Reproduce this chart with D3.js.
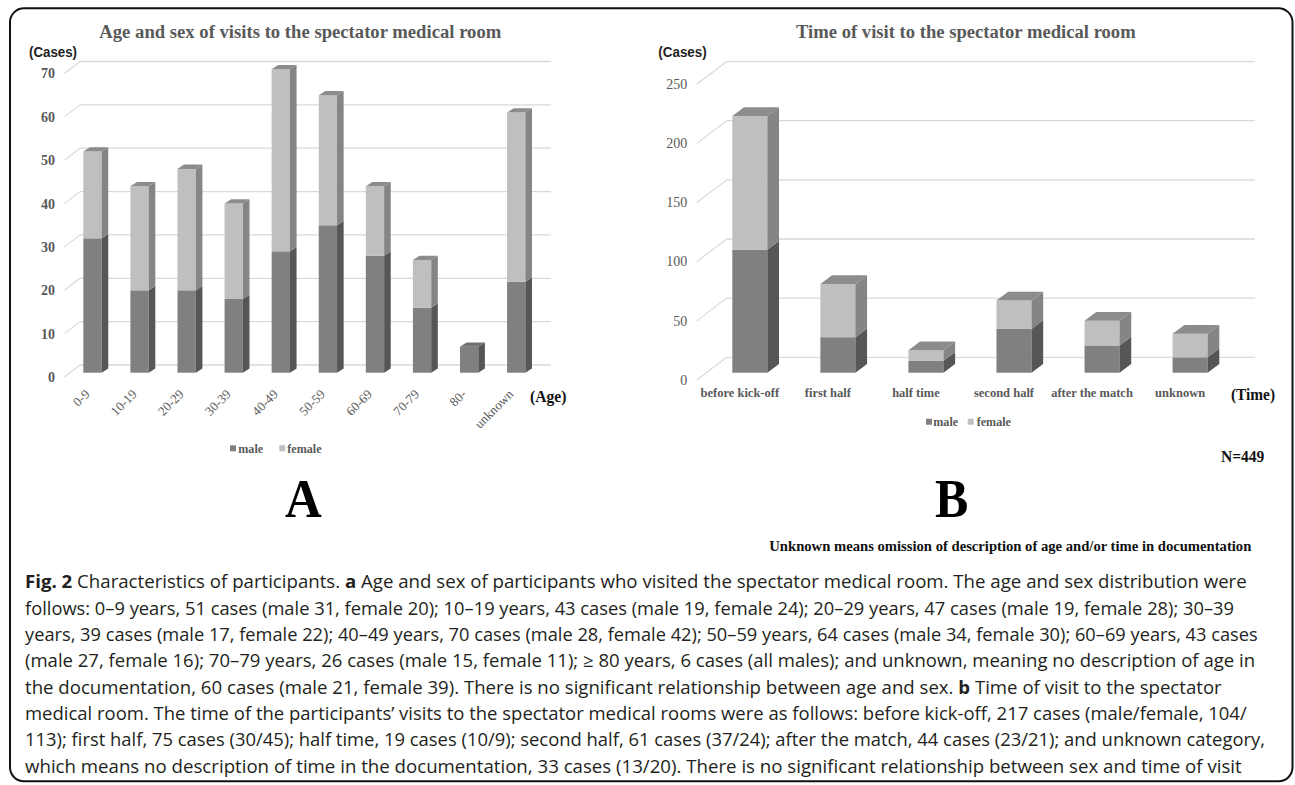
<!DOCTYPE html>
<html>
<head>
<meta charset="utf-8">
<script src="https://cdn.jsdelivr.net/npm/d3@7"></script>
<style>
  body { margin: 0; background: #fff; }
  svg { display: block; }
</style>
</head>
<body>
<svg id="wrapper" width="1295" height="785"></svg>
<script>
// 1. Data
const sexes = ["male", "female"]

const ageGroups = ["0-9", "10-19", "20-29", "30-39", "40-49", "50-59", "60-69", "70-79", "80-", "unknown"]
const ageMale = [31, 19, 19, 17, 28, 34, 27, 15, 6, 21]
const ageFemale = [20, 24, 28, 22, 42, 30, 16, 11, 0, 39]
const ageTicks = [0, 10, 20, 30, 40, 50, 60, 70]

const timeGroups = ["before kick-off", "first half", "half time", "second half", "after the match", "unknown"]
const timeMale = [104, 30, 10, 37, 23, 13]
const timeFemale = [113, 45, 9, 24, 21, 20]
const timeTicks = [0, 50, 100, 150, 200, 250]

const captionLines = [
  "**Fig. 2** Characteristics of participants. **a** Age and sex of participants who visited the spectator medical room. The age and sex distribution were",
  "follows: 0–9 years, 51 cases (male 31, female 20); 10–19 years, 43 cases (male 19, female 24); 20–29 years, 47 cases (male 19, female 28); 30–39",
  "years, 39 cases (male 17, female 22); 40–49 years, 70 cases (male 28, female 42); 50–59 years, 64 cases (male 34, female 30); 60–69 years, 43 cases",
  "(male 27, female 16); 70–79 years, 26 cases (male 15, female 11); ≥ 80 years, 6 cases (all males); and unknown, meaning no description of age in",
  "the documentation, 60 cases (male 21, female 39). There is no significant relationship between age and sex. **b** Time of visit to the spectator",
  "medical room. The time of the participants’ visits to the spectator medical rooms were as follows: before kick-off, 217 cases (male/female, 104/",
  "113); first half, 75 cases (30/45); half time, 19 cases (10/9); second half, 61 cases (37/24); after the match, 44 cases (23/21); and unknown category,",
  "which means no description of time in the documentation, 33 cases (13/20). There is no significant relationship between sex and time of visit",
]
// right edge of each caption line (ragged right)
const captionEnds = [1246.7, 1234, 1257.7, 1255, 1221.7, 1246.7, 1265, 1241.7]

// 2. Styles
const serif = '"Liberation Serif", "Times New Roman", serif'
const grey = "#595959"
const colors = {
  male: { front: "#808080", side: "#565656", top: "#727272" },
  female: { front: "#bfbfbf", side: "#858585", top: "#8c8c8c" },
}

const svg = d3.select("#wrapper")

svg.append("rect")
  .attr("x", 10).attr("y", 8.3)
  .attr("width", 1282.5).attr("height", 773)
  .attr("rx", 14)
  .attr("fill", "#fff")
  .attr("stroke", "#111")
  .attr("stroke-width", 2)

function fitText(sel, width) {
  sel.attr("textLength", width).attr("lengthAdjust", "spacingAndGlyphs")
}

function squeeze(sel, k) {
  sel.each(function () {
    const w = this.getComputedTextLength()
    d3.select(this).attr("textLength", w * k).attr("lengthAdjust", "spacingAndGlyphs")
  })
}

function label(x, y, txt, opts) {
  const t = svg.append("text")
    .attr("x", x).attr("y", y)
    .attr("font-family", opts.family || serif)
    .attr("font-size", opts.size)
    .attr("font-weight", opts.weight || "bold")
    .attr("fill", opts.fill || "#111")
    .attr("text-anchor", opts.anchor || "start")
    .text(txt)
  if (opts.width) fitText(t, opts.width)
  return t
}

// 3. Panels
function drawPanel(p) {
  const g = svg.append("g")

  const rows = p.categories.map((c, i) => ({ cat: c, male: p.male[i], female: p.female[i] }))
  const series = d3.stack().keys(sexes)(rows)

  const xScale = d3.scaleBand()
    .domain(p.categories)
    .range(p.xRange)
    .paddingInner(p.padInner)
    .paddingOuter(0.3)

  const yScale = d3.scaleLinear()
    .domain([0, d3.max(p.ticks)])
    .range(p.yRange)

  // back wall gridlines + side wall diagonals
  const wallY = d => yScale(d) + p.wallDy
  g.selectAll(".grid")
    .data(p.ticks)
    .join("line")
    .attr("class", "grid")
    .attr("x1", p.wallX[0]).attr("x2", p.wallX[1])
    .attr("y1", wallY).attr("y2", wallY)
    .attr("stroke", "#d9d9d9").attr("stroke-width", 1.3)
  g.selectAll(".diag")
    .data(p.ticks)
    .join("line")
    .attr("class", "diag")
    .attr("x1", p.wallX[0] - p.diag[0]).attr("y1", d => wallY(d) + p.diag[1])
    .attr("x2", p.wallX[0]).attr("y2", wallY)
    .attr("stroke", "#d9d9d9").attr("stroke-width", 1.1)

  // y axis labels
  const yAxis = g.append("g")
    .attr("transform", `translate(${p.yLabelX}, ${p.yLabelDy})`)
    .call(d3.axisLeft(yScale).tickValues(p.ticks).tickSize(0).tickPadding(0))
  yAxis.select(".domain").remove()
  yAxis.selectAll("text")
    .attr("font-family", serif)
    .attr("font-size", p.yFont)
    .attr("font-weight", p.yWeight)
    .attr("fill", grey)

  // bars
  const bw = xScale.bandwidth()
  const [dx, dy] = p.depth
  series.forEach(s => {
    const c = colors[s.key]
    const segs = s.filter(d => d[1] - d[0] > 0)
    g.selectAll(`.front-${s.key}`)
      .data(segs)
      .join("rect")
      .attr("x", d => xScale(d.data.cat))
      .attr("y", d => yScale(d[1]))
      .attr("width", bw)
      .attr("height", d => yScale(d[0]) - yScale(d[1]))
      .attr("fill", c.front)
    g.selectAll(`.side-${s.key}`)
      .data(segs)
      .join("polygon")
      .attr("points", d => {
        const xr = xScale(d.data.cat) + bw
        const yb = yScale(d[0]), yt = yScale(d[1])
        return [[xr, yb], [xr + dx, yb + dy], [xr + dx, yt + dy], [xr, yt]].join(" ")
      })
      .attr("fill", c.side)
  })
  g.selectAll(".top")
    .data(rows)
    .join("polygon")
    .attr("points", d => {
      const x = xScale(d.cat)
      const yt = yScale(d.male + d.female)
      return [[x, yt], [x + dx, yt + dy], [x + bw + dx, yt + dy], [x + bw, yt]].join(" ")
    })
    .attr("fill", d => d.female > 0 ? colors.female.top : colors.male.top)

  // x axis labels
  const xAxis = g.append("g")
    .attr("transform", `translate(${p.xLabel[0]}, ${p.xLabel[1]})`)
    .call(d3.axisBottom(xScale).tickSize(0).tickPadding(0))
  xAxis.select(".domain").remove()
  const xt = xAxis.selectAll("text")
    .attr("font-family", serif)
    .attr("font-size", p.xFont)
    .attr("font-weight", p.xWeight)
    .attr("fill", grey)
  if (p.rotate) {
    xt.attr("y", 0).attr("dy", 0)
      .attr("text-anchor", "end")
      .attr("transform", "rotate(-45)")
  } else {
    xt.attr("dy", "0.71em")
  }

  // legend
  const lg = g.append("g")
  lg.selectAll("rect")
    .data(sexes)
    .join("rect")
    .attr("x", (d, i) => p.legendSq[i])
    .attr("y", p.legendY - 3)
    .attr("width", 6).attr("height", 6)
    .attr("fill", d => colors[d].front)
  lg.selectAll("text")
    .data(sexes)
    .join("text")
    .attr("x", (d, i) => p.legendTx[i])
    .attr("y", p.legendY + 4.5)
    .attr("font-family", serif)
    .attr("font-size", 13)
    .attr("font-weight", "bold")
    .attr("fill", grey)
    .text(d => d)
  squeeze(lg.selectAll("text"), 0.93)
}

drawPanel({
  categories: ageGroups, male: ageMale, female: ageFemale, ticks: ageTicks,
  xRange: [69.2, 539.5], padInner: 0.611,
  yRange: [372.7, 69.2],
  wallDy: -7.7, wallX: [80, 551], diag: [15.5, 12],
  yLabelX: 55, yLabelDy: 4.3, yFont: 14, yWeight: "bold",
  depth: [6.6, -4.3],
  xLabel: [-2, 395], xFont: 13, xWeight: "normal", rotate: true,
  legendY: 448.3, legendSq: [230, 279.3], legendTx: [238.3, 287.3],
})

drawPanel({
  categories: timeGroups, male: timeMale, female: timeFemale, ticks: timeTicks,
  xRange: [705.9, 1234.0], padInner: 0.6025,
  yRange: [372.7, 76.95],
  wallDy: -15.4, wallX: [726.7, 1255], diag: [30, 22.7],
  yLabelX: 687.3, yLabelDy: 7.1, yFont: 14, yWeight: "normal",
  depth: [11.7, -8.7],
  xLabel: [-10, 388], xFont: 12.5, xWeight: "bold", rotate: false,
  legendY: 421.7, legendSq: [926, 967.7], legendTx: [933.3, 976.7],
})

// 4. Titles and annotations
label(99.3, 37.5, "Age and sex of visits to the spectator medical room", { size: 18, fill: grey, width: 402 })
label(796, 37.5, "Time of visit to the spectator medical room", { size: 18, fill: grey, width: 339.7 })

const sans = '"Liberation Sans", Arial, sans-serif'
label(29, 56.7, "(Cases)", { size: 14, family: sans, fill: "#222", width: 48 })
label(658.3, 56.7, "(Cases)", { size: 14, family: sans, fill: "#222", width: 48.4 })

label(530, 402.3, "(Age)", { size: 16, width: 36.4 })
label(1231, 400.3, "(Time)", { size: 16, width: 44 })
label(1221, 462, "N=449", { size: 16, width: 43.3 })

label(303.3, 516.7, "A", { size: 54, anchor: "middle", fill: "#000", width: 36.7 })
label(951.7, 516.7, "B", { size: 54, anchor: "middle", fill: "#000", width: 33.3 })

label(769.3, 550.5, "Unknown means omission of description of age and/or time in documentation",
  { size: 14, fill: "#111", width: 482 })

// 5. Caption
const caption = svg.append("g")
  .attr("font-family", '"Open Sans", "Noto Sans", sans-serif')
  .attr("font-size", 18)
  .attr("fill", "#231f20")

captionLines.forEach((line, i) => {
  const t = caption.append("text")
    .attr("x", 25)
    .attr("y", 588.3 + i * 26.35)
  line.split("**").forEach((part, j) => {
    if (!part) return
    t.append("tspan")
      .attr("font-weight", j % 2 ? "bold" : "normal")
      .text(part)
  })
  fitText(t, captionEnds[i] - 25)
})
</script>
</body>
</html>
